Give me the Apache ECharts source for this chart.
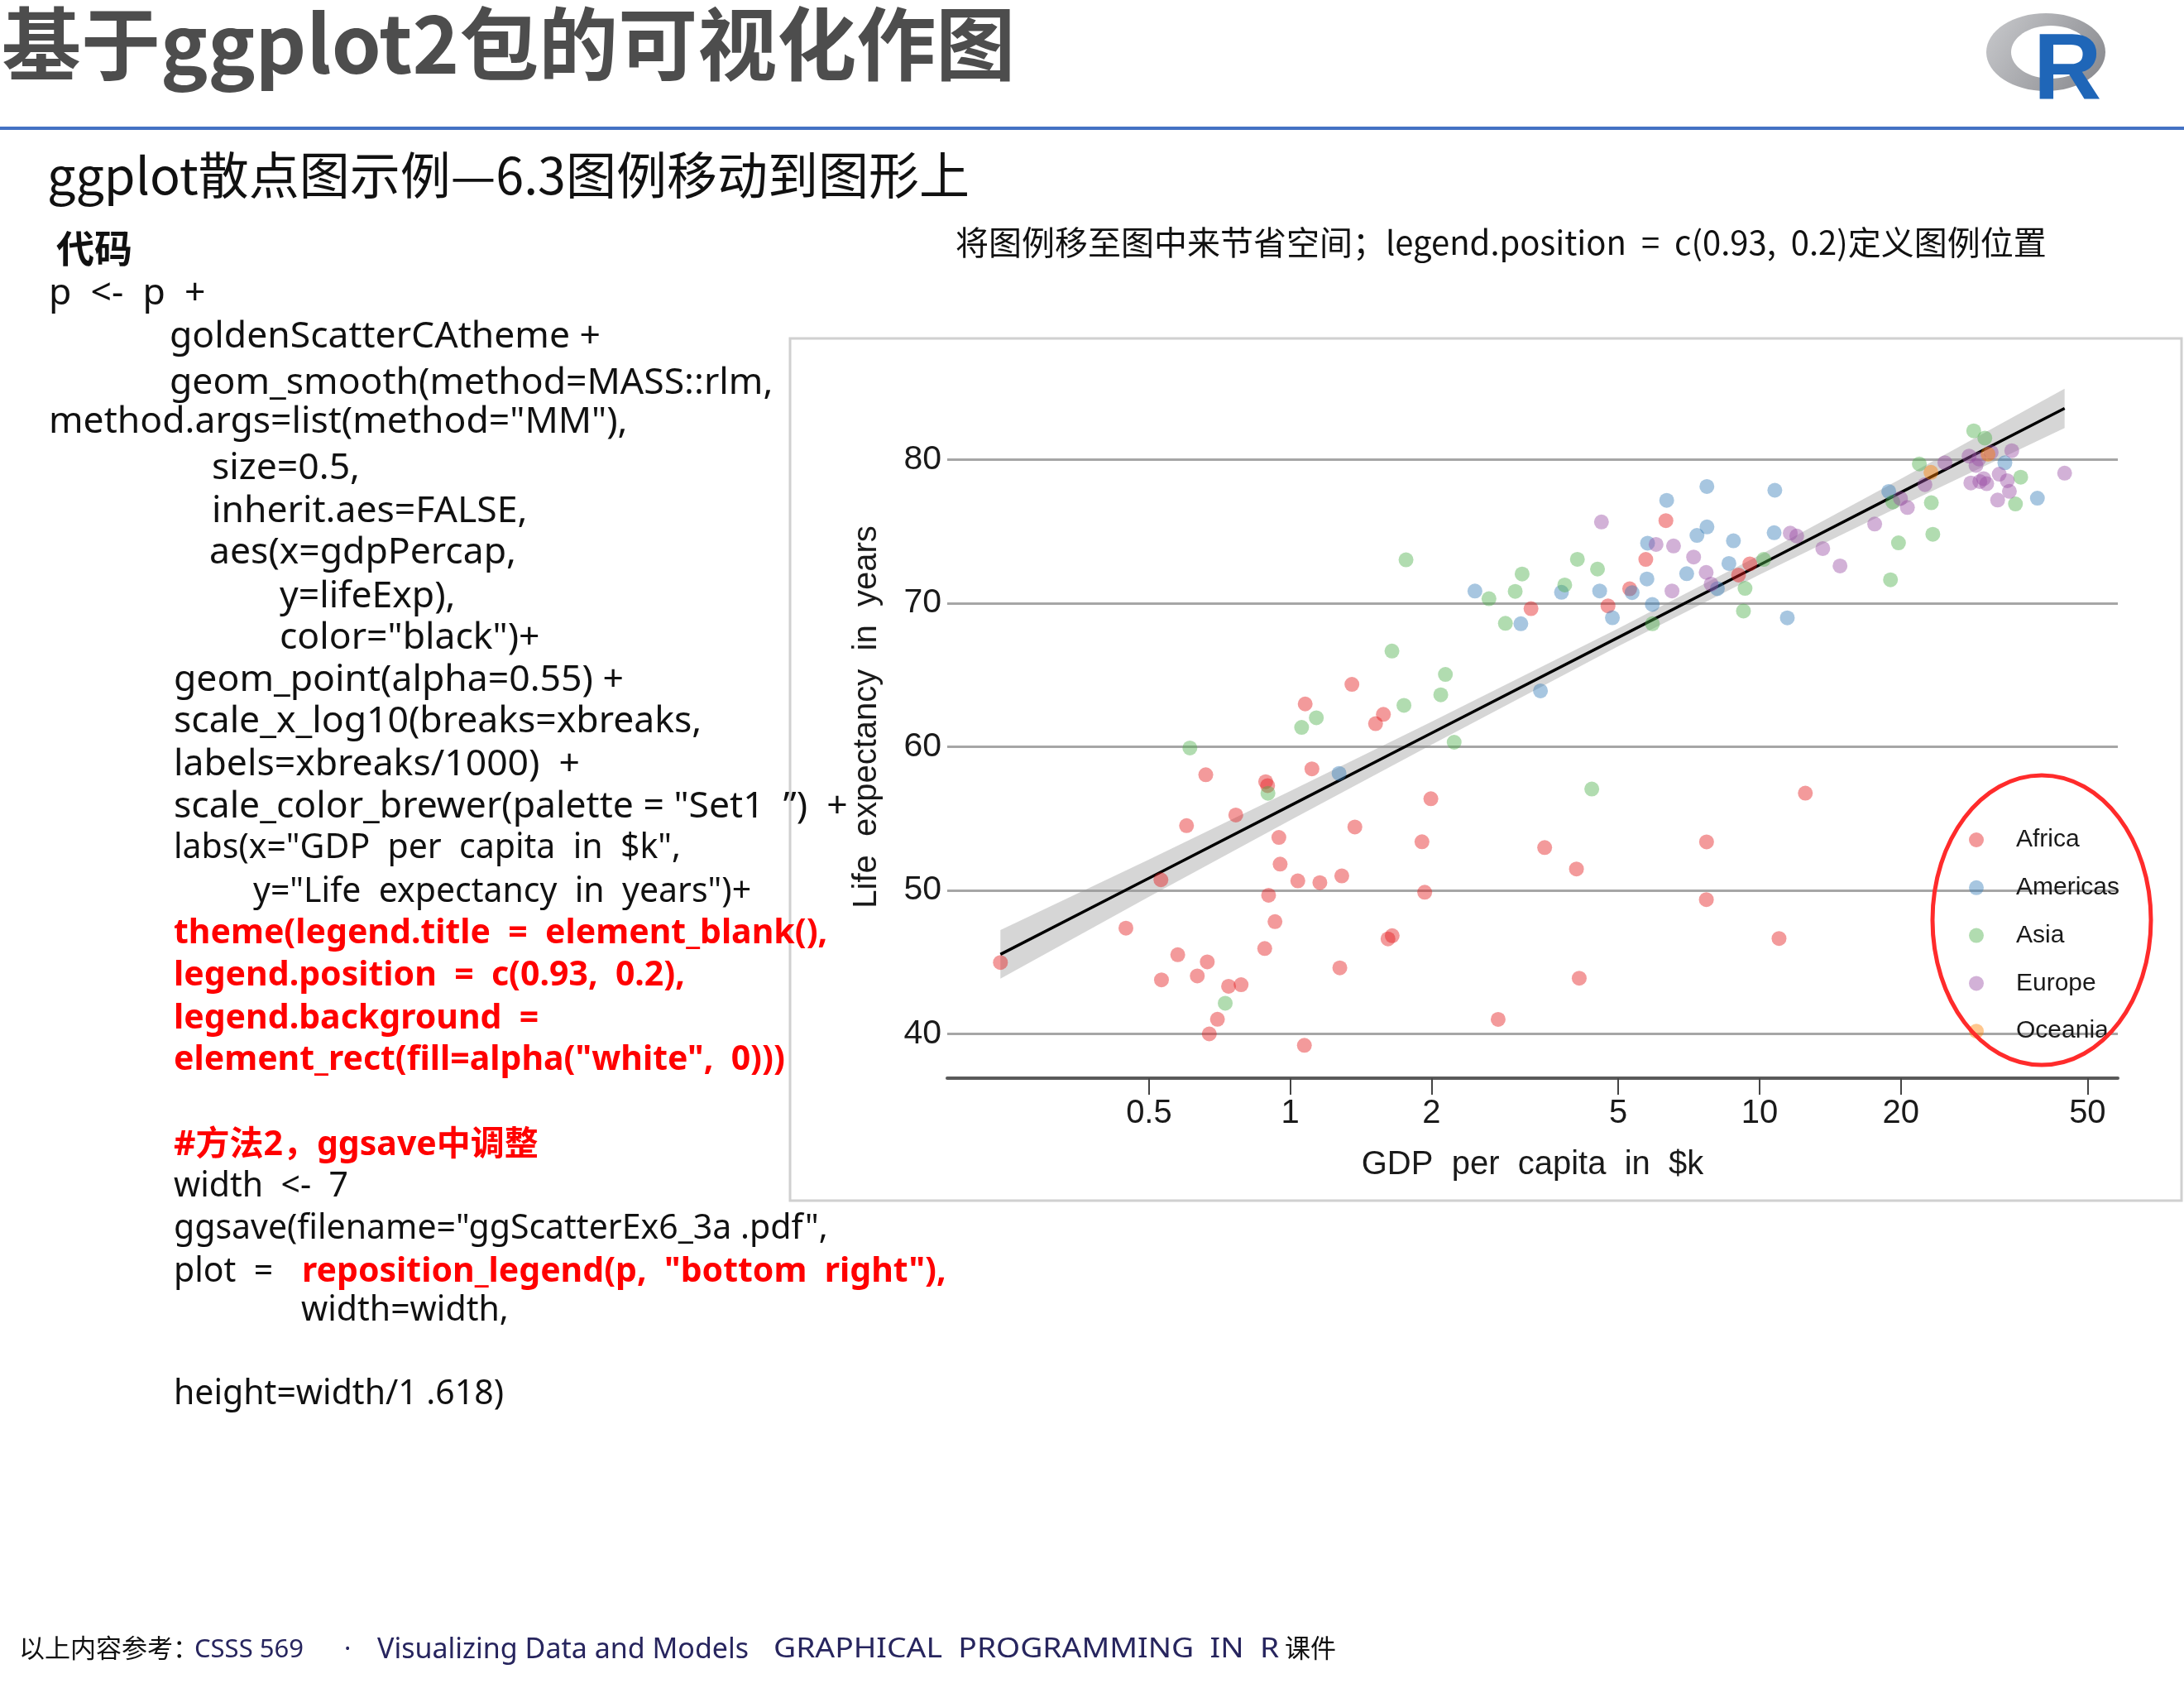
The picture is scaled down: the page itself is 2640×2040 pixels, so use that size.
<!DOCTYPE html>
<html>
<head>
<meta charset="utf-8">
<title>ggplot散点图示例—6.3图例移动到图形上</title>
<script src="https://cdn.jsdelivr.net/npm/echarts@6/dist/echarts.min.js"></script>
<style>
  html, body { margin: 0; padding: 0; background: #fff; }
  #chart { width: 2640px; height: 2040px; }
</style>
</head>
<body>
<div id="chart"></div>
<script>
// gapminder, year 2002 -- gdpPercap (US$) and lifeExp, countries in alphabetical order
const africaGdp = [5288.040, 2773.287, 1372.878, 11003.605, 1037.645, 446.4035, 1934.011, 738.6906, 1156.182, 1075.812,
  241.1659, 3484.164, 1648.800, 1908.261, 4754.604, 7703.496, 765.3500, 530.0535, 12521.71, 660.5856,
  1111.985, 945.5836, 575.7047, 1287.515, 1275.185, 531.4824, 9534.677, 894.6371, 665.4231, 951.4098,
  1579.020, 9021.816, 3258.496, 633.6179, 4072.324, 601.0745, 1615.286, 6316.165, 785.6538, 1353.092,
  1519.635, 699.4897, 882.0818, 7710.946, 1993.398, 4128.117, 899.0742, 886.2206, 5722.896, 927.7210,
  1071.614, 672.0386]
const africaLife = [70.994, 41.003, 54.406, 46.634, 50.650, 47.360, 49.856, 43.308, 50.525, 62.974,
  44.966, 52.970, 46.832, 53.373, 69.806, 49.348, 55.240, 50.725, 56.761, 58.041,
  58.453, 53.676, 45.504, 50.992, 44.593, 43.753, 72.737, 57.286, 45.009, 51.818,
  62.247, 71.954, 69.615, 44.026, 51.479, 54.496, 46.608, 75.744, 43.413, 64.337,
  61.600, 41.012, 45.936, 53.365, 56.369, 43.869, 49.651, 57.561, 73.042, 47.813,
  39.193, 39.989]

const americasGdp = [8797.641, 3413.263, 8131.213, 33328.97, 10778.78, 5755.260, 7723.447, 6340.647, 4563.808, 5773.045,
  5351.569, 4858.348, 1270.365, 3099.729, 6994.775, 10742.44, 2474.549, 7356.032, 3783.675, 5909.020,
  18855.61, 11460.60, 39097.10, 7727.002, 8605.048]
const americasLife = [74.340, 63.883, 71.006, 79.770, 77.860, 71.682, 78.123, 77.158, 70.847, 74.173,
  70.734, 68.978, 58.137, 68.565, 72.047, 74.902, 70.836, 74.712, 70.755, 69.906,
  77.778, 68.976, 77.310, 75.307, 72.766]

const asiaGdp = [726.7341, 23403.56, 1136.391, 896.2260, 3119.281, 30209.02, 1746.769, 2873.913, 9240.762, 4390.717,
  21905.60, 28604.59, 3844.918, 1646.758, 19233.99, 35110.11, 9313.939, 10206.98, 2140.739, 611.0000,
  1057.206, 19774.84, 2092.712, 2650.921, 19014.54, 36023.11, 3015.379, 4090.925, 23235.42, 5913.188,
  1764.457, 4515.488, 2234.821]
const asiaLife = [42.129, 74.795, 62.013, 56.752, 72.028, 81.495, 62.879, 68.588, 69.451, 57.046,
  79.696, 82.000, 71.263, 66.662, 77.045, 76.904, 71.028, 73.044, 65.033, 59.908,
  61.340, 74.193, 63.610, 70.303, 71.626, 78.770, 70.815, 73.053, 76.990, 68.564,
  73.017, 72.370, 60.308]

const europeGdp = [4604.212, 32417.61, 30485.88, 6018.975, 7696.778, 11628.39, 17596.21, 32166.50, 28204.59, 28926.03,
  30035.80, 22514.25, 14843.94, 31163.20, 34077.05, 27968.10, 6557.194, 33724.76, 44683.98, 12002.24,
  19970.91, 7885.360, 7236.075, 13638.78, 20660.02, 24835.47, 29341.63, 34480.96, 6508.086, 29478.10]
const europeLife = [75.651, 78.980, 78.320, 74.090, 72.140, 74.876, 75.510, 77.180, 78.370, 79.590,
  78.670, 78.256, 72.590, 80.500, 77.783, 80.240, 73.981, 78.530, 79.050, 74.670,
  77.290, 71.322, 73.213, 73.800, 76.660, 79.780, 80.040, 80.620, 70.845, 78.471]

const oceaniaGdp = [30687.75, 23189.80]
const oceaniaLife = [80.370, 79.110]

const continents = ['Africa', 'Americas', 'Asia', 'Europe', 'Oceania']
const continentGdp = [africaGdp, americasGdp, asiaGdp, europeGdp, oceaniaGdp]
const continentLife = [africaLife, americasLife, asiaLife, europeLife, oceaniaLife]
// brewer Set1
const continentColors = ['#E41A1C', '#377EB8', '#4DAF4A', '#984EA3', '#FF7F00']

// rlm (MM) smooth and its band
const smoothGdp = [241.1659, 500, 1000, 2000, 5000, 10000, 20000, 44683.98]
const smoothFit = [45.53, 50.84, 55.89, 60.94, 67.61, 72.66, 77.71, 83.57]
const smoothLow = [43.84, 49.54, 54.87, 60.14, 66.99, 71.98, 76.76, 82.20]
const smoothHigh = [47.22, 52.14, 56.91, 61.74, 68.23, 73.34, 78.66, 84.94]

const xBreaks = [500, 1000, 2000, 5000, 10000, 20000, 50000] // labels = xbreaks/1000
const yBreaks = [40, 50, 60, 70, 80]

const fontCn = '"Noto Sans CJK SC", sans-serif'
const fontCode = '"Noto Sans", "Noto Sans CJK SC", sans-serif'
const fontPlot = '"Liberation Sans", Arial, sans-serif'

const lx = g => Math.log10(g / 1000)

function rgba (hex, a) {
  const n = parseInt(hex.slice(1), 16)
  return 'rgba(' + (n >> 16) + ',' + ((n >> 8) & 255) + ',' + (n & 255) + ',' + a + ')'
}

// ggplot-like 5% expansion of the ranges
const allGdp = [].concat(...continentGdp)
const allLife = [].concat(...continentLife, smoothLow, smoothHigh)
const xMinRaw = Math.min(...allGdp.map(lx)), xMaxRaw = Math.max(...allGdp.map(lx))
const yMinRaw = Math.min(...allLife), yMaxRaw = Math.max(...allLife)
const xPad = (xMaxRaw - xMinRaw) * 0.05, yPad = (yMaxRaw - yMinRaw) * 0.05

// code block on the left; big = the wider-set lines
const codeLines = [
  {x: 59, y: 355, text: 'p  <-  p  +', big: true},
  {x: 205, y: 407, text: 'goldenScatterCAtheme +', big: true},
  {x: 205, y: 463, text: 'geom_smooth(method=MASS::rlm,', big: true},
  {x: 59, y: 510, text: 'method.args=list(method="MM"),', big: true},
  {x: 256, y: 566, text: 'size=0.5,', big: true},
  {x: 256, y: 618, text: 'inherit.aes=FALSE,', big: true},
  {x: 253, y: 668, text: 'aes(x=gdpPercap,', big: true},
  {x: 338, y: 721, text: 'y=lifeExp),', big: true},
  {x: 338, y: 771, text: 'color="black")+', big: true},
  {x: 210, y: 822, text: 'geom_point(alpha=0.55) +', big: true},
  {x: 210, y: 872, text: 'scale_x_log10(breaks=xbreaks,', big: true},
  {x: 210, y: 924, text: 'labels=xbreaks/1000)  +', big: true},
  {x: 210, y: 975, text: 'scale_color_brewer(palette = "Set1  \u201d)  +', big: true},
  {x: 210, y: 1025, text: 'labs(x="GDP  per  capita  in  $k",'},
  {x: 306, y: 1078, text: 'y="Life  expectancy  in  years")+'},
  {x: 210, y: 1128, text: 'theme(legend.title  =  element_blank(),', red: true},
  {x: 210, y: 1179, text: 'legend.position  =  c(0.93,  0.2),', red: true},
  {x: 210, y: 1231, text: 'legend.background  =', red: true},
  {x: 210, y: 1281, text: 'element_rect(fill=alpha("white",  0)))', red: true},
  {x: 210, y: 1384, text: '#方法2，ggsave中调整', red: true},
  {x: 210, y: 1434, text: 'width  <-  7'},
  {x: 210, y: 1485, text: 'ggsave(filename="ggScatterEx6_3a .pdf",'},
  {x: 210, y: 1537, text: 'plot  =  '},
  {x: 365, y: 1537, text: 'reposition_legend(p,  "bottom  right"),', red: true},
  {x: 364, y: 1584, text: 'width=width,'},
  {x: 210, y: 1685, text: 'height=width/1 .618)'},
]

const footer = [
  {x: 23, text: '以上内容参考：', color: '#111'},
  {x: 235, text: 'CSSS 569', color: '#27255e'},
  {x: 416, text: '·', color: '#27255e'},
  {x: 456, text: 'Visualizing Data and Models', color: '#27255e', size: 34},
  {x: 935, text: 'GRAPHICAL  PROGRAMMING  IN  R', color: '#27255e', size: 33, stretch: 1.13},
  {x: 1553, text: '课件', color: '#111'},
]

function txt (x, y, text, font, fill, z) {
  return {
    type: 'text', x: x, y: y, z: z || 20,
    style: {
      text: text, font: font, fill: fill,
      align: 'left', verticalAlign: 'middle',
      textAlign: 'left', textVerticalAlign: 'middle',
    },
  }
}

const graphics = [
  // chart frame
  {type: 'rect', z: 0, shape: {x: 955, y: 409, width: 1682, height: 1042},
    style: {fill: 'none', stroke: '#d0d0d0', lineWidth: 3}},
  // title + rule
  txt(2, 53, '基于ggplot2包的可视化作图', 'bold 96px ' + fontCn, '#4d4d4d'),
  {type: 'rect', z: 5, shape: {x: 0, y: 153, width: 2640, height: 4}, style: {fill: '#4472c4'}},
  // R logo
  {type: 'ellipse', z: 5, shape: {cx: 2473, cy: 63, rx: 72, ry: 47},
    style: {fill: new echarts.graphic.LinearGradient(0, 0, 1, 1, [
      {offset: 0, color: '#c9cacd'}, {offset: 1, color: '#85868b'}])}},
  {type: 'ellipse', z: 6, shape: {cx: 2479, cy: 63, rx: 48, ry: 32}, style: {fill: '#fff'}},
  txt(2458, 89, 'R', 'bold 114px ' + fontPlot, '#1f66b8', 7),
  // headings
  txt(57, 212, 'ggplot散点图示例—6.3图例移动到图形上', '61px ' + fontCn, '#111'),
  txt(68, 300, '代码', 'bold 46px ' + fontCn, '#111'),
  txt(1155, 293, '将图例移至图中来节省空间；legend.position  =  c(0.93,  0.2)定义图例位置', '40px ' + fontCn, '#111'),
  // red annotation round the legend
  {type: 'ellipse', z: 100, shape: {cx: 2468, cy: 1112, rx: 132, ry: 175},
    style: {fill: 'none', stroke: '#ff2b2b', lineWidth: 5}},
]
codeLines.forEach(l => {
  const size = l.big ? 44.5 : 41
  graphics.push(txt(l.x, l.y, l.text, (l.red ? 'bold ' : '') + size + 'px ' + fontCode, l.red ? '#ff0000' : '#111', 30))
})
footer.forEach(f => {
  const t = txt(f.x, 1994, f.text, (f.size || 31) + 'px ' + fontCode, f.color)
  if (f.stretch) t.scaleX = f.stretch
  graphics.push(t)
})

const series = [
  {
    // confidence band of the smooth, drawn as one polygon through the axes' scales
    type: 'custom', name: 'band', silent: true, z: 1,
    data: smoothGdp.map((g, i) => [lx(g), smoothLow[i], smoothHigh[i]]),
    encode: {x: 0, y: [1, 2]},
    renderItem: (params, api) => {
      if (params.dataIndex !== 0) return null
      const up = smoothGdp.map((g, i) => api.coord([lx(g), smoothHigh[i]]))
      const dn = smoothGdp.map((g, i) => api.coord([lx(g), smoothLow[i]])).reverse()
      return {
        type: 'polygon',
        shape: {points: up.concat(dn)},
        style: {fill: 'rgba(153,153,153,0.4)'},
      }
    },
  },
  {
    type: 'line', name: 'fit', silent: true, z: 3,
    symbol: 'none',
    lineStyle: {color: '#000', width: 3.5},
    data: smoothGdp.map((g, i) => [lx(g), smoothFit[i]]),
  },
]
continents.forEach((c, k) => {
  series.push({
    type: 'scatter', name: c, z: 4,
    symbol: 'circle', symbolSize: 18,
    itemStyle: {color: rgba(continentColors[k], 0.55)},
    data: continentGdp[k].map((g, i) => [lx(g), continentLife[k][i]]),
  })
})

const chart = echarts.init(document.getElementById('chart'))
chart.setOption({
  animation: false,
  backgroundColor: '#fff',
  grid: {left: 1145, right: 80, top: 430, bottom: 737},
  legend: {
    data: continents, orient: 'vertical', left: 2380, top: 1000, padding: 0,
    itemWidth: 18, itemHeight: 18, itemGap: 27.8, icon: 'circle',
    textStyle: {fontFamily: fontPlot, fontSize: 30, lineHeight: 30, color: '#1a1a1a', padding: [0, 0, 0, 34]},
  },
  xAxis: {
    type: 'value',
    min: xMinRaw - xPad, max: xMaxRaw + xPad,
    name: 'GDP  per  capita  in  $k', nameLocation: 'middle', nameGap: 85,
    nameTextStyle: {fontFamily: fontPlot, fontSize: 40, color: '#1a1a1a'},
    axisLine: {show: true, onZero: false, lineStyle: {color: '#5a5a5a', width: 4}},
    axisTick: {show: true, length: 20, customValues: xBreaks.map(lx),
      lineStyle: {color: '#444', width: 2}},
    axisLabel: {
      customValues: xBreaks.map(lx), margin: 23,
      fontFamily: fontPlot, fontSize: 40, color: '#1a1a1a',
      formatter: v => String(+Math.pow(10, v).toPrecision(2)),
    },
    splitLine: {show: false},
  },
  yAxis: {
    type: 'value',
    min: yMinRaw - yPad, max: yMaxRaw + yPad,
    name: 'Life  expectancy  in  years', nameLocation: 'middle', nameGap: 77,
    nameTextStyle: {fontFamily: fontPlot, fontSize: 40, color: '#1a1a1a'},
    axisLine: {show: false},
    axisTick: {show: false, customValues: yBreaks},
    axisLabel: {customValues: yBreaks, margin: 7, fontFamily: fontPlot, fontSize: 41, color: '#1a1a1a'},
    splitLine: {show: true, lineStyle: {color: '#a6a6a6', width: 3}},
  },
  graphic: {elements: graphics},
  series: series,
})
</script>
</body>
</html>
